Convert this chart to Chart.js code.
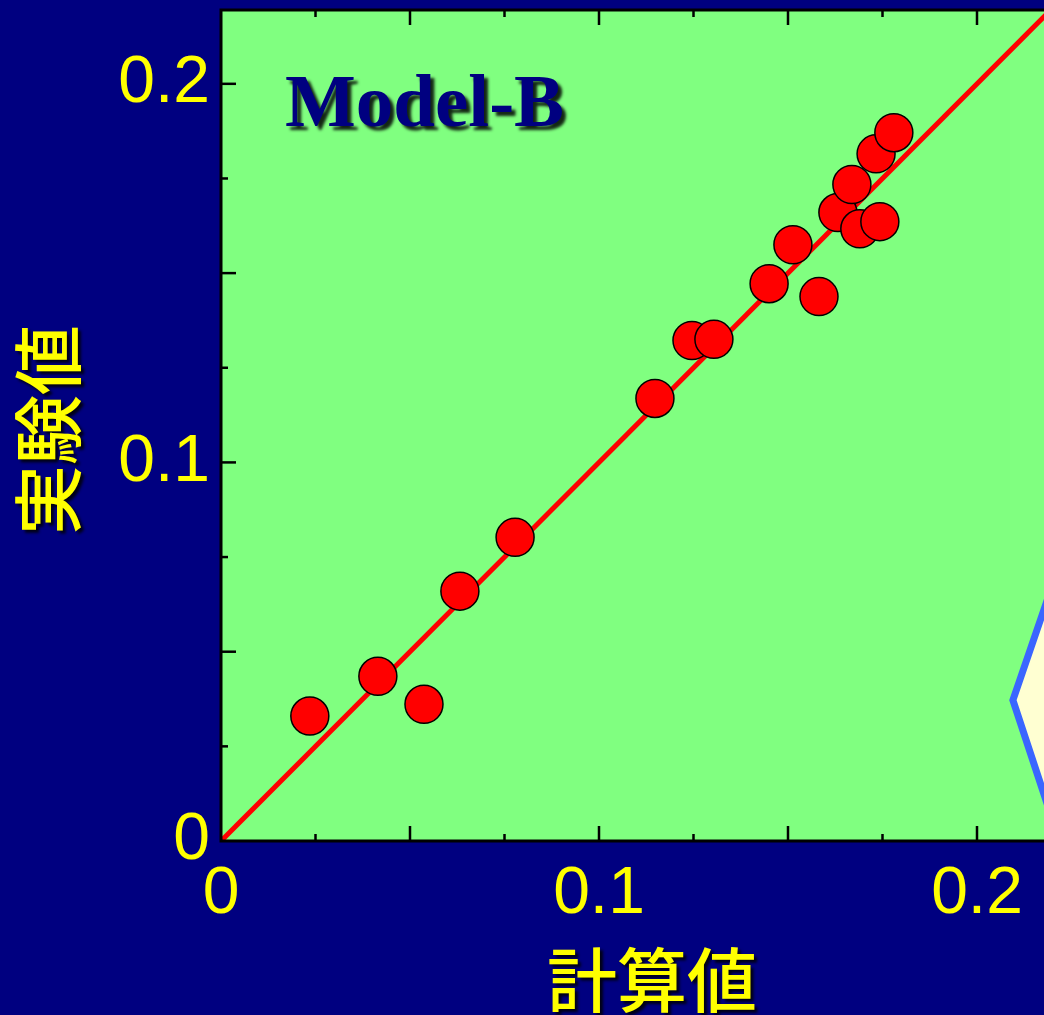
<!DOCTYPE html>
<html>
<head>
<meta charset="utf-8">
<script src="https://cdn.jsdelivr.net/npm/chart.js@4"></script>
<style>
  html, body { margin: 0; padding: 0; background: #000080; overflow: hidden; }
  #wrap { width: 1120px; height: 1015px; }
</style>
</head>
<body>
<div id="wrap"><canvas id="chart" width="1120" height="1015"></canvas></div>
<script>
// 計算値 (x) vs 実験値 (y)
const calcValues = [0.0235, 0.0415, 0.0537, 0.0632, 0.0778, 0.1148, 0.1246, 0.1304, 0.1450,
  0.1513, 0.1582, 0.1632, 0.1690, 0.1743, 0.1669, 0.1733, 0.1780];
const expValues = [0.0330, 0.0435, 0.0361, 0.0660, 0.0802, 0.1169, 0.1322, 0.1325, 0.1472,
  0.1575, 0.1438, 0.1660, 0.1617, 0.1636, 0.1734, 0.1815, 0.1871];

// y = x reference line
const lineX = [0, 0.25];
const lineY = [0, 0.25];

const tickLabels = [0, 0.1, 0.2];
const tickValues = [0, 0.025, 0.05, 0.075, 0.1, 0.125, 0.15, 0.175, 0.2, 0.225];

const modelLabel = 'Model-B';
const xTitle = '計算値';
const yTitle = '実験値';

const isLabelTick = (v) => tickLabels.some((t) => Math.abs(t - v) < 1e-9);
const isMajor = (v) => Math.abs(v / 0.05 - Math.round(v / 0.05)) < 1e-6;

const decorPlugin = {
  id: 'decor',
  beforeDraw(chart) {
    const { ctx, chartArea: a } = chart;
    ctx.save();
    ctx.fillStyle = '#80ff80';
    ctx.fillRect(a.left, a.top, a.right - a.left, a.bottom - a.top);
    ctx.restore();
  },
  afterDraw(chart) {
    const { ctx, chartArea: a } = chart;
    const xs = chart.scales.x;
    const ys = chart.scales.y;
    ctx.save();

    // callout shape at the right edge
    const tx = xs.getPixelForValue(0.2095);
    const ty = ys.getPixelForValue(0.0372);
    ctx.beginPath();
    ctx.moveTo(tx, ty);
    ctx.lineTo(tx + 36, ty - 105);
    ctx.lineTo(tx + 200, ty - 105);
    ctx.lineTo(tx + 200, ty + 112);
    ctx.lineTo(tx + 37, ty + 112);
    ctx.closePath();
    ctx.fillStyle = '#ffffd2';
    ctx.fill();
    ctx.lineWidth = 7;
    ctx.lineJoin = 'miter';
    ctx.strokeStyle = '#3a66ff';
    ctx.stroke();

    // inward tick marks
    ctx.strokeStyle = '#000';
    ctx.lineWidth = 2.5;
    xs.ticks.forEach((t) => {
      if (t.value === 0) return;
      const len = isMajor(t.value) ? 15 : 7;
      const px = xs.getPixelForValue(t.value);
      ctx.beginPath();
      ctx.moveTo(px, a.bottom); ctx.lineTo(px, a.bottom - len);
      ctx.moveTo(px, a.top); ctx.lineTo(px, a.top + len);
      ctx.stroke();
    });
    ys.ticks.forEach((t) => {
      if (t.value === 0) return;
      const len = isMajor(t.value) ? 15 : 7;
      const py = ys.getPixelForValue(t.value);
      ctx.beginPath();
      ctx.moveTo(a.left, py); ctx.lineTo(a.left + len, py);
      ctx.stroke();
    });

    // frame
    ctx.lineWidth = 3;
    ctx.beginPath();
    ctx.moveTo(a.right + 5, a.top);
    ctx.lineTo(a.left, a.top);
    ctx.lineTo(a.left, a.bottom);
    ctx.lineTo(a.right + 5, a.bottom);
    ctx.stroke();

    // model label
    ctx.shadowColor = 'rgba(0,0,0,0.85)';
    ctx.shadowBlur = 3;
    ctx.shadowOffsetX = 4;
    ctx.shadowOffsetY = 4;
    ctx.font = 'bold 75px "Liberation Serif", "Times New Roman", serif';
    ctx.fillStyle = '#000080';
    ctx.textAlign = 'left';
    ctx.textBaseline = 'alphabetic';
    ctx.fillText(modelLabel, a.left + 64, a.top + 116);

    // axis titles
    ctx.font = '500 70px "Noto Sans CJK JP", sans-serif';
    ctx.fillStyle = '#ffff00';
    ctx.textAlign = 'center';
    ctx.textBaseline = 'middle';
    ctx.shadowOffsetX = 3;
    ctx.shadowOffsetY = 3;
    ctx.fillText(xTitle, 652, 980);
    ctx.translate(48, 430);
    ctx.rotate(-Math.PI / 2);
    ctx.fillText(yTitle, 0, 0);
    ctx.restore();
  },
};

const tickFont = { family: '"Liberation Sans", Arial, sans-serif', size: 66 };
const setTicks = (s) => {
  s.ticks = tickValues.filter((v) => v <= s.max + 1e-9).map((value) => ({ value }));
};

new Chart(document.getElementById('chart'), {
  type: 'scatter',
  data: {
    datasets: [
      {
        type: 'line',
        data: lineX.map((x, i) => ({ x, y: lineY[i] })),
        borderColor: '#ff0000',
        borderWidth: 5,
        pointRadius: 0,
        order: 2,
      },
      {
        data: calcValues.map((x, i) => ({ x, y: expValues[i] })),
        backgroundColor: '#ff0000',
        borderColor: '#000000',
        borderWidth: 1.5,
        pointRadius: 19,
        order: 1,
      },
    ],
  },
  options: {
    responsive: false,
    devicePixelRatio: 1,
    animation: false,
    layout: { autoPadding: false, padding: { top: 10, right: 0, bottom: 0, left: 0 } },
    plugins: { legend: { display: false }, tooltip: { enabled: false } },
    scales: {
      x: {
        type: 'linear',
        min: 0,
        max: (1120 - 221) / 3780,
        afterBuildTicks: setTicks,
        afterFit: (s) => { s.height = 174; s.paddingLeft = 0; s.paddingRight = 0; },
        grid: { display: false, drawTicks: false },
        border: { display: false },
        ticks: {
          autoSkip: false,
          maxRotation: 0,
          padding: 14,
          color: '#ffff00',
          font: tickFont,
          callback: (v) => (isLabelTick(v) ? String(Math.round(v * 10) / 10) : ''),
        },
      },
      y: {
        type: 'linear',
        min: 0,
        max: 0.2195,
        afterBuildTicks: setTicks,
        afterFit: (s) => { s.width = 221; s.paddingTop = 0; s.paddingBottom = 0; },
        grid: { display: false, drawTicks: false },
        border: { display: false },
        ticks: {
          autoSkip: false,
          padding: 11,
          color: '#ffff00',
          font: tickFont,
          callback: (v) => (isLabelTick(v) ? String(Math.round(v * 10) / 10) : ''),
        },
      },
    },
  },
  plugins: [decorPlugin],
});
</script>
</body>
</html>
